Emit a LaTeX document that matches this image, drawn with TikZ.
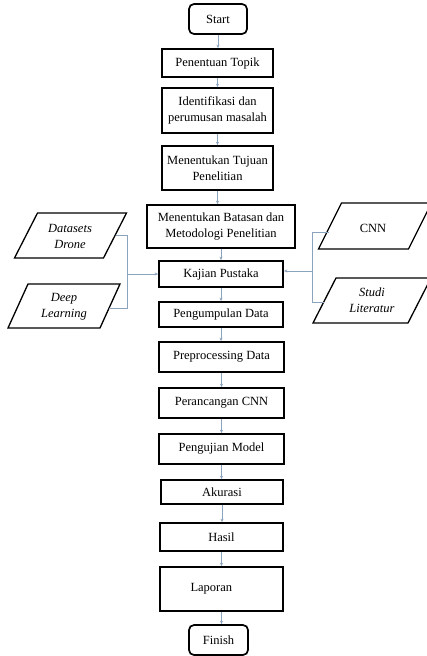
\documentclass[tikz,border=0pt]{standalone}
\usepackage{fontspec}
\setmainfont{Liberation Serif}
\usetikzlibrary{arrows.meta}
\definecolor{conn}{rgb}{0.55,0.64,0.74}
\begin{document}
\begin{tikzpicture}[x=1pt,y=-1pt,
  box/.style={draw=black, line width=1.7pt, fill=white, align=center,
    inner sep=1pt, font=\fontsize{12.5}{16}\selectfont},
  rbox/.style={box, rounded corners=5pt},
  para/.style={draw=black, line width=1.3pt, fill=white},
  ptext/.style={align=center, font=\fontsize{12.5}{16}\selectfont\itshape},
  flow/.style={draw=conn, line width=0.6pt, -{Stealth[length=3.5pt,width=3pt]}},
  link/.style={draw=conn, line width=0.6pt}]
\useasboundingbox (0,0) rectangle (427,656);

% main column
\node[rbox, minimum width=58, minimum height=30] (start) at (218,19) {Start};
\node[box, minimum width=111, minimum height=28] (pen) at (217.5,63) {Penentuan Topik};
\node[box, minimum width=111, minimum height=45] (ide) at (217.5,110.5) {Identifikasi dan\\perumusan masalah};
\node[box, minimum width=111, minimum height=44] (tuj) at (217.5,168) {Menentukan Tujuan\\Penelitian};
\node[box, minimum width=148, minimum height=43] (bat) at (221,226.5) {Menentukan Batasan dan\\Metodologi Penelitian};
\node[box, minimum width=124, minimum height=26] (kaj) at (221,274) {Kajian Pustaka};
\node[box, minimum width=124, minimum height=25] (pgm) at (221,314.5) {Pengumpulan Data};
\node[box, minimum width=125, minimum height=30] (pre) at (221.5,357) {Preprocessing Data};
\node[box, minimum width=125, minimum height=30] (per) at (221.5,403) {Perancangan CNN};
\node[box, minimum width=125, minimum height=30] (pgj) at (221.5,449) {Pengujian Model};
\node[box, minimum width=122, minimum height=24] (aku) at (222,492) {Akurasi};
\node[box, minimum width=123, minimum height=28] (has) at (221.5,537) {Hasil};
\node[box, minimum width=123, minimum height=44] (lap) at (221.5,589) {\makebox[100pt][l]{\hspace{19pt}Laporan}};
\node[rbox, minimum width=59, minimum height=30] (fin) at (218.5,640) {Finish};

\foreach \a/\b in {start/pen,pen/ide,ide/tuj,tuj/bat,bat/kaj,kaj/pgm,pgm/pre,pre/per,per/pgj,pgj/aku,aku/has,has/lap,lap/fin}
  \draw[flow] (\a.south) -- (\a.south |- \b.north);

% left inputs
\draw[para] (14.5,258) -- (103.5,258) -- (126.5,213) -- (37.5,213) -- cycle;
\node[ptext] (dd) at (70,236.5) {Datasets\\Drone};
\draw[para] (8,328) -- (100,328) -- (120,284) -- (28,284) -- cycle;
\node[ptext] (dl) at (64,306.5) {Deep\\Learning};

% right inputs
\draw[para] (318.5,249) -- (408.5,249) -- (431.5,203) -- (341.5,203) -- cycle;
\node[ptext, font=\fontsize{12.5}{16}\selectfont] (cnn) at (373,228) {CNN};
\draw[para] (313,323) -- (408,323) -- (431,278) -- (336,278) -- cycle;
\node[ptext] (sl) at (372,300.5) {Studi\\Literatur};

% left bracket
\coordinate (ddR) at (115.5,235);
\coordinate (dlR) at (109,308);
\coordinate (lbT) at (127,235);
\coordinate (lbB) at (127,308);
\coordinate (lbM) at (127,274);
\draw[link] (ddR) -- (lbT) -- (lbB) -- (dlR);
\draw[flow] (lbM) -- (kaj.west);

% right bracket
\coordinate (cnnL) at (328.5,232);
\coordinate (slL) at (324,302);
\coordinate (rbT) at (312,232);
\coordinate (rbB) at (312,302);
\coordinate (rbM) at (312,271);
\draw[link] (cnnL) -- (rbT) -- (rbB) -- (slL);
\draw[flow] (rbM) -- (rbM -| kaj.east);
\end{tikzpicture}
\end{document}
